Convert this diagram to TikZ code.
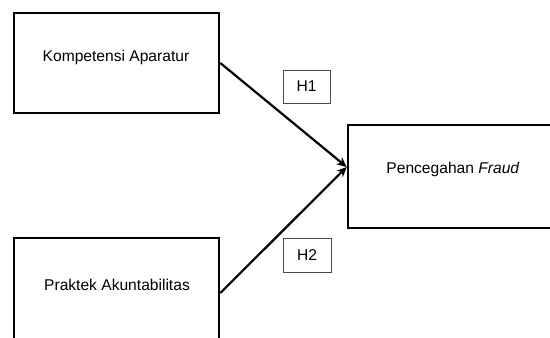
\documentclass[tikz,border=0pt]{standalone}
\usepackage{fontspec}
\setmainfont{Liberation Sans}
\usetikzlibrary{arrows.meta}
\begin{document}
\begin{tikzpicture}[x=1pt,y=-1pt,
  varbox/.style={draw=black,line width=2.6pt,minimum width=205pt,inner sep=0pt},
  hbox/.style={draw=black!70,line width=0.8pt,minimum width=47pt,minimum height=33pt,inner sep=0pt,font=\fontsize{15.6}{17}\selectfont},
  lbl/.style={inner sep=0pt,font=\fontsize{15.6}{17}\selectfont},
  conn/.style={line width=2.2pt,-{Stealth[length=10pt,width=9pt]}}]
\useasboundingbox (0,0) rectangle (550,338);
\node[varbox,minimum height=100pt] (b1) at (116.5,63) {};
\node[varbox,minimum height=110pt] (b2) at (116.5,293) {};
\node[varbox,minimum width=206pt,minimum height=103pt] (b3) at (451,176.5) {};
\node[lbl] (t1) at (116,57) {Kompetensi Aparatur};
\node[lbl] (t2) at (117,285) {Praktek Akuntabilitas};
\node[lbl] (t3) at (453,169.5) {Pencegahan \textit{Fraud}};
\node[hbox] (h1) at (306.5,86.5) {H1};
\node[hbox,minimum width=48pt,minimum height=34pt] (h2) at (307,255) {H2};
\coordinate (tip) at ([yshift=9.5pt]b3.west);
\draw[conn] (b1.east) -- (tip);
\draw[conn] (b2.east) -- (tip);
\end{tikzpicture}
\end{document}
